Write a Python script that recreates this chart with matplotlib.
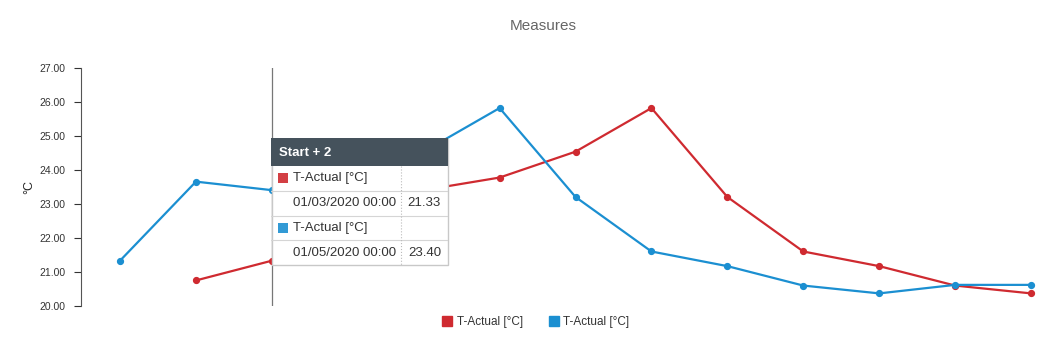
import matplotlib.pyplot as plt
from matplotlib.patches import Rectangle
from matplotlib.lines import Line2D

plt.rcParams['font.family'] = ['Liberation Sans', 'DejaVu Sans']

# data
steps = list(range(13))
red_values = [None, 20.75, 21.33, 23.65, 23.40, 23.77, 24.53, 25.81, 23.20, 21.60, 21.17, 20.60, 20.37]
blue_values = [21.33, 23.65, 23.40, 23.77, 24.53, 25.81, 23.20, 21.60, 21.17, 20.60, 20.37, 20.62, 20.62]
y_ticks = [20, 21, 22, 23, 24, 25, 26, 27]
series_name = "T-Actual [°C]"
hover_index = 2
tooltip_title = "Start + 2"
tooltip_rows = [("01/03/2020 00:00", "21.33"), ("01/05/2020 00:00", "23.40")]

red = "#cf2a30"
blue = "#1b8fd1"


def do_plot():
    fig = plt.figure(figsize=(10.6, 3.53), dpi=100)
    ax = fig.add_axes([81 / 1060, 47 / 353, 969 / 1060, 238.5 / 353])

    rx = [s for s, v in zip(steps, red_values) if v is not None]
    ry = [v for v in red_values if v is not None]
    ax.plot(rx, ry, color=red, lw=1.6, marker='o', ms=4.2, zorder=3)
    ax.plot(steps, blue_values, color=blue, lw=1.6, marker='o', ms=4.2, zorder=3)

    ax.axvline(hover_index, color="#777777", lw=0.9, zorder=2)

    ax.set_xlim(-0.514, 12.25)
    ax.set_ylim(20, 27)
    ax.set_yticks(y_ticks)
    ax.set_yticklabels([f"{t:.2f}" for t in y_ticks], fontsize=7.5, color="#333333")
    ax.tick_params(axis='y', length=5, width=0.8, color="#333333", pad=6)
    ax.set_xticks([])
    for side in ['top', 'right', 'bottom']:
        ax.spines[side].set_visible(False)
    ax.spines['left'].set_color("#555555")
    ax.spines['left'].set_linewidth(0.8)
    ax.set_ylabel("°C", fontsize=9, color="#222222", labelpad=3)

    fig.text(543 / 1060, 1 - 26 / 353, "Measures", ha='center', va='center', fontsize=11, color="#666666")

    # legend
    handles = [Line2D([], [], color=red, marker='s', ls='', ms=7),
               Line2D([], [], color=blue, marker='s', ls='', ms=7)]
    fig.legend(handles, [series_name, series_name], loc='center', bbox_to_anchor=(536 / 1060, 1 - 322 / 353),
               ncol=2, frameon=False, fontsize=8.5, handlelength=0.8, handletextpad=0.4, columnspacing=2.2,
               labelcolor="#333333")

    # tooltip overlay
    tx0, ty0, tw, th = 271, 138, 177, 127
    tip = fig.add_axes([tx0 / 1060, 1 - (ty0 + th) / 353, tw / 1060, th / 353], zorder=10)
    tip.set_xlim(0, tw)
    tip.set_ylim(th, 0)
    tip.axis('off')
    tip.add_patch(Rectangle((0.5, 0.5), tw - 1, th - 1, facecolor='white', edgecolor="#c8c8c8", lw=1, clip_on=False))
    tip.add_patch(Rectangle((0, 0), tw, 28, facecolor="#45525c", edgecolor='none'))
    tip.text(8, 14.5, tooltip_title, color='white', fontsize=9.5, fontweight='bold', va='center')
    row_h = 24.75
    for i in range(1, 4):
        y = 28 + i * row_h
        tip.plot([0, tw], [y, y], color="#d5d5d5", lw=0.8)
    tip.plot([130, 130], [28, th], color="#bbbbbb", lw=0.8, ls=':')
    for k, (col, (date, val)) in enumerate(zip([red, blue], tooltip_rows)):
        y1 = 28 + (2 * k) * row_h + row_h / 2
        y2 = 28 + (2 * k + 1) * row_h + row_h / 2
        tip.add_patch(Rectangle((7, y1 - 5), 10, 10, facecolor=col, edgecolor='none', alpha=0.9))
        tip.text(22, y1, series_name, fontsize=9.5, color="#333333", va='center')
        tip.text(22, y2, date, fontsize=9.5, color="#333333", va='center')
        tip.text(170, y2, val, fontsize=9.5, color="#333333", va='center', ha='right')

    plt.savefig("out.png", dpi=100)


if __name__ == "__main__":
    do_plot()
